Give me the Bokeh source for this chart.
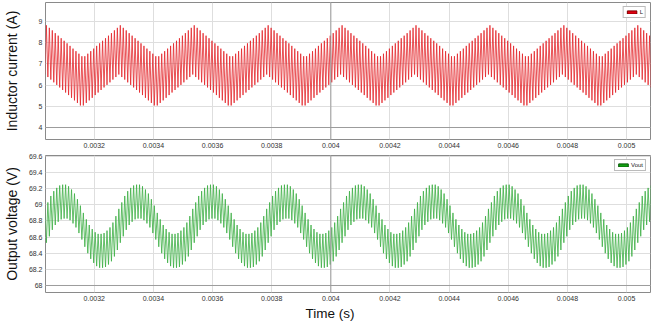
import numpy as np
from bokeh.plotting import figure
from bokeh.layouts import column
from bokeh.models import (FixedTicker, CustomJSTickFormatter, Span, Legend,
                          LegendItem, Title, Range1d)
from bokeh.embed import file_html
from bokeh.resources import INLINE

# ---- data -----------------------------------------------------------------
# One 4 kHz envelope period = 25 switching cycles (10 us each).
# Per switching cycle: inductor-current valley (cycle start) and peak (mid-cycle)
CUR_VALLEY = [6.50, 6.38, 6.26, 6.13, 6.01, 5.89, 5.77, 5.65, 5.53, 5.40, 5.28, 5.16, 5.04,
              5.04, 5.16, 5.28, 5.40, 5.53, 5.65, 5.77, 5.89, 6.01, 6.13, 6.26, 6.38]
CUR_PEAK = [8.82, 8.70, 8.58, 8.45, 8.33, 8.21, 8.09, 7.97, 7.85, 7.72, 7.60, 7.48, 7.36,
            7.36, 7.48, 7.60, 7.72, 7.85, 7.97, 8.09, 8.21, 8.33, 8.45, 8.58, 8.70]
# Output voltage: high (cycle start) and low (mid-cycle) per switching cycle
VOUT_HIGH = [68.95, 69.03, 69.11, 69.17, 69.21, 69.24, 69.25, 69.25, 69.23, 69.19, 69.14, 69.07, 68.99,
             68.90, 68.82, 68.75, 68.70, 68.66, 68.64, 68.64, 68.65, 68.68, 68.72, 68.78, 68.86]
VOUT_LOW = [68.53, 68.61, 68.69, 68.75, 68.79, 68.82, 68.83, 68.83, 68.81, 68.77, 68.72, 68.65, 68.57,
            68.48, 68.40, 68.33, 68.28, 68.24, 68.22, 68.22, 68.23, 68.26, 68.30, 68.36, 68.44]

T_START = 0.003033      # s, first switching cycle shown
T_SW = 10e-6            # s, switching period
N_CYCLES = 206

X_RANGE = (0.003035, 0.005081)
I_RANGE = (3.434, 9.896)
V_RANGE = (67.913, 69.612)

X_TICKS = [0.0032, 0.0034, 0.0036, 0.0038, 0.004, 0.0042, 0.0044, 0.0046, 0.0048, 0.005]
I_TICKS = [4, 5, 6, 7, 8, 9]
V_TICKS = [68, 68.2, 68.4, 68.6, 68.8, 69, 69.2, 69.4, 69.6]
CURSOR_T = 0.004

# ---- build waveforms (repeat the steady-state period) ---------------------
reps = N_CYCLES // len(CUR_PEAK) + 1
cv = np.tile(CUR_VALLEY, reps)[:N_CYCLES]
cp = np.tile(CUR_PEAK, reps)[:N_CYCLES]
vh = np.tile(VOUT_HIGH, reps)[:N_CYCLES]
vl = np.tile(VOUT_LOW, reps)[:N_CYCLES]
i_wave = np.column_stack([cv, cp]).ravel()
v_wave = np.column_stack([vh, vl]).ravel()
t = T_START + np.arange(2 * N_CYCLES) * (T_SW / 2)

FONT = "Liberation Sans"
RED = "#e3262b"
GREEN = "#3cae44"
GRID = "#dedede"
DARK_LINE = "#9c9c9c"

xr = Range1d(*X_RANGE)


def style(p, yticks, ylabel, label_standoff):
    fmt = CustomJSTickFormatter(code="return String(parseFloat(tick.toFixed(5)));")
    p.xaxis.ticker = FixedTicker(ticks=X_TICKS)
    p.yaxis.ticker = FixedTicker(ticks=yticks)
    for ax in (p.xaxis[0], p.yaxis[0]):
        ax.formatter = fmt
        ax.major_label_text_font = FONT
        ax.major_label_text_font_size = "7px"
        ax.major_label_text_color = "#333333"
        ax.major_tick_out = 0
        ax.major_tick_in = 0
        ax.minor_tick_out = 0
        ax.minor_tick_in = 0
        ax.axis_line_color = None
        ax.major_label_standoff = 3
    p.yaxis.axis_label = ylabel
    p.yaxis.axis_label_text_font = FONT
    p.yaxis.axis_label_text_font_size = "14px"
    p.yaxis.axis_label_text_font_style = "normal"
    p.yaxis.axis_label_text_color = "#111111"
    p.yaxis.axis_label_standoff = label_standoff
    p.xgrid.grid_line_color = GRID
    p.ygrid.grid_line_color = GRID
    p.outline_line_color = "#8a8a8a"
    p.outline_line_width = 1
    p.background_fill_color = "white"
    p.border_fill_color = "white"


def legend(renderer, label):
    return Legend(items=[LegendItem(label=label, renderers=[renderer])], location="top_right",
                  label_text_font=FONT, label_text_font_size="6px", label_text_color="#222222",
                  glyph_width=12, glyph_height=4, label_height=4, label_width=1,
                  label_standoff=2, padding=2, margin=4, spacing=0,
                  border_line_color="#777777", border_line_width=1, background_fill_alpha=1)


# ---- top: inductor current ------------------------------------------------
p1 = figure(width=651, height=153, x_range=xr, y_range=Range1d(*I_RANGE),
            output_backend="svg", toolbar_location=None,
            min_border_left=43, min_border_right=1, min_border_top=2, min_border_bottom=14)
style(p1, I_TICKS, "Inductor current (A)", 16)
p1.add_layout(Span(location=CURSOR_T, dimension="height", line_color=DARK_LINE, line_width=1))
p1.add_layout(Span(location=I_TICKS[0], dimension="width", line_color=DARK_LINE, line_width=1))
p1.line(t, i_wave, line_color=RED, line_width=0.8)
# legend proxy (no visible data)
lg1 = p1.quad(left=[np.nan], right=[np.nan], top=[np.nan], bottom=[np.nan],
              fill_color="#e00010", line_color="#7a0000")
p1.add_layout(legend(lg1, "L"))

# ---- bottom: output voltage -----------------------------------------------
p2 = figure(width=651, height=176, x_range=xr, y_range=Range1d(*V_RANGE),
            output_backend="svg", toolbar_location=None,
            min_border_left=43, min_border_right=1, min_border_top=2, min_border_bottom=37)
style(p2, V_TICKS, "Output voltage (V)", 6)
p2.add_layout(Span(location=CURSOR_T, dimension="height", line_color=DARK_LINE, line_width=1))
p2.add_layout(Span(location=V_TICKS[0], dimension="width", line_color=DARK_LINE, line_width=1))
p2.line(t, v_wave, line_color=GREEN, line_width=0.8)
lg2 = p2.quad(left=[np.nan], right=[np.nan], top=[np.nan], bottom=[np.nan],
              fill_color="#12a012", line_color="#0b5a0b")
p2.add_layout(legend(lg2, "Vout"))
p2.add_layout(Title(text="Time (s)", align="left", offset=260, text_font=FONT,
                    text_font_size="13.5px", text_font_style="normal", text_color="#111111",
                    standoff=0), "below")

layout = column(p1, p2, spacing=0)
open("out.html", "w").write(file_html(layout, INLINE))
